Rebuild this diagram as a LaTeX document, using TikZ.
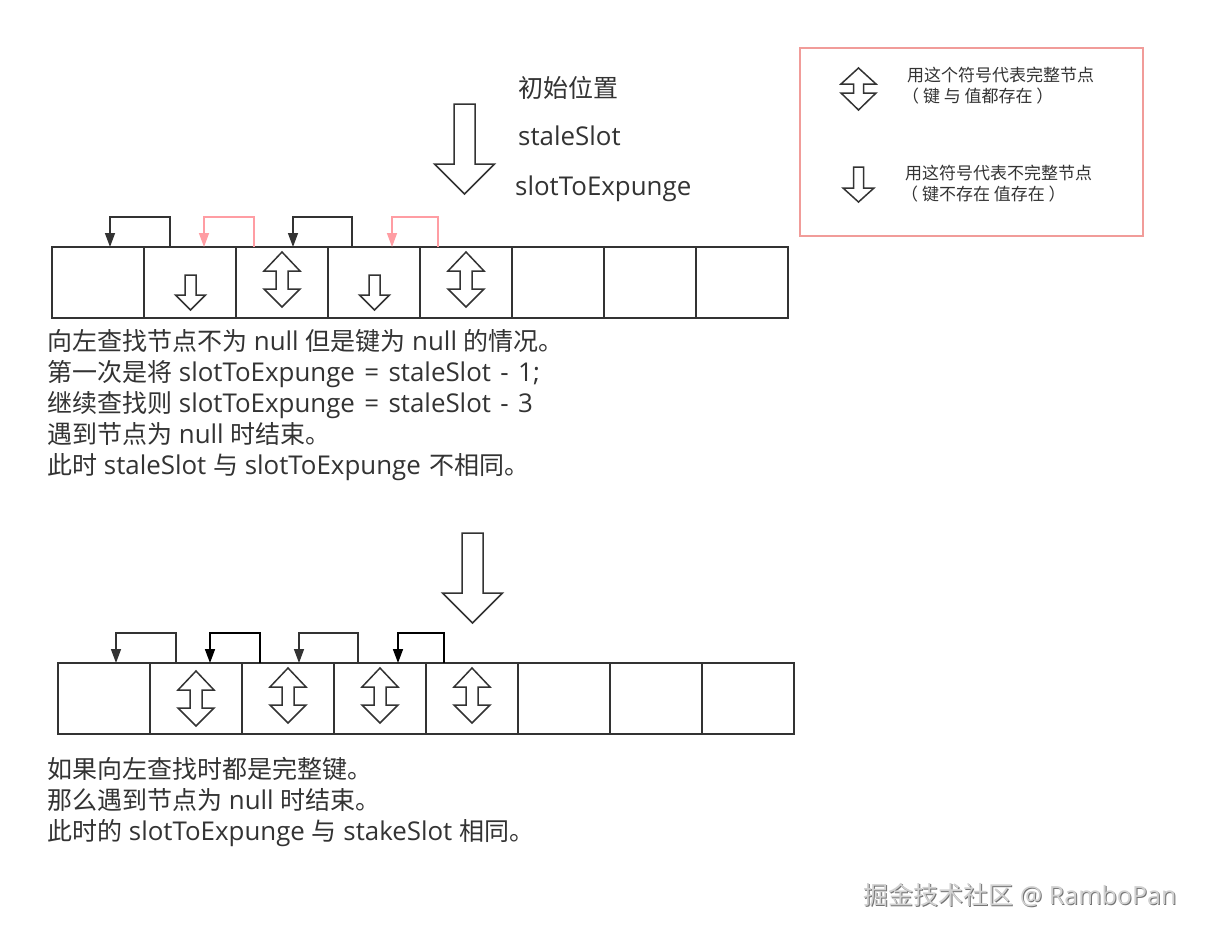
\documentclass[tikz,border=0pt]{standalone}
\usepackage{fontspec}
\setmainfont[Scale=1.035]{Open Sans}
\newfontfamily\cj{Noto Sans CJK SC}
\usetikzlibrary{arrows.meta}
\definecolor{ink}{HTML}{333333}
\definecolor{rosa}{HTML}{FF9DA3}
\definecolor{rosb}{HTML}{F19C99}
\newcommand{\wsp}{\hspace{2.7pt}}
\newcommand{\dnarrow}[6]{% cx, top, heady, tip, shaft half, wing half
  \draw[shape arrow] ({#1-#5},#2) -- ({#1+#5},#2) -- ({#1+#5},#3) -- ({#1+#6},#3) -- (#1,#4) -- ({#1-#6},#3) -- ({#1-#5},#3) -- cycle;}
\newcommand{\dbarrow}[7]{% cx, top, upper wing y, lower wing y, tip, shaft half, wing half
  \draw[shape arrow] (#1,#2) -- ({#1+#7},#3) -- ({#1+#6},#3) -- ({#1+#6},#4) -- ({#1+#7},#4) -- (#1,#5) -- ({#1-#7},#4) -- ({#1-#6},#4) -- ({#1-#6},#3) -- ({#1-#7},#3) -- cycle;}
\tikzset{
  x=1pt,y=-1pt,
  cellbox/.style={draw=ink,line width=1.5pt,minimum width=92pt,minimum height=71pt,inner sep=0pt,outer sep=0pt,anchor=north west},
  shape arrow/.style={draw=ink,line width=1.5pt,fill=white,line join=miter},
  conn/.style={line width=1.4pt,draw=ink,-{Triangle[length=14pt,width=10pt,fill=ink]}},
  connk/.style={line width=1.6pt,draw=black,-{Triangle[length=14pt,width=10pt,fill=black]}},
  connp/.style={line width=1.4pt,draw=rosa,-{Triangle[length=14pt,width=10pt,fill=rosa]}},
  bigtext/.style={inner sep=0pt,anchor=north west,align=left,text=ink,font=\fontsize{25}{31}\selectfont},
  legendtext/.style={inner sep=0pt,anchor=north west,align=left,text=ink,font=\fontsize{17}{21}\cj\selectfont},
  toptext/.style={inner sep=0pt,anchor=west,text=ink,font=\fontsize{25}{31}\selectfont},
  mark text/.style={inner sep=0pt,anchor=west,font=\fontsize{25}{30}\selectfont},
}
\begin{document}
\begin{tikzpicture}
\useasboundingbox[fill=white] (0,0) rectangle (1205,935);
% top labels
\node[toptext] (t1) at (518,88) {\cj 初始位置};
\node[toptext] (t2) at (518,136) {staleSlot};
\node[toptext] (t3) at (515,189) {slotToExpunge};
\dnarrow{464.5}{104}{164}{194}{10.5}{30}
% first row
\foreach \i in {1,...,8} \node[cellbox] (a\i) at ({52+92*(\i-1)},247) {};
\draw[conn] ([xshift=26pt]a2.north west) -- ++(0,-30) -| ([xshift=58pt]a1.north west);
\draw[connp] ([xshift=18pt]a3.north west) -- ++(0,-30) -| ([xshift=60pt]a2.north west);
\draw[conn] ([xshift=24pt]a4.north west) -- ++(0,-30) -| ([xshift=57pt]a3.north west);
\draw[connp] ([xshift=18pt]a5.north west) -- ++(0,-30) -| ([xshift=64pt]a4.north west);
\dnarrow{190.5}{275}{295}{310}{5.5}{15}
\dnarrow{374.5}{275}{295}{310}{5.5}{15}
\dbarrow{282}{252}{271}{289}{307}{6}{18}
\dbarrow{466}{252}{271}{289}{307}{6}{18}
% first paragraph
\node[bigtext] (p1) at (47,329) {{\cj 向左查找节点不为} null {\cj 但是键为} null {\cj 的情况。}\\
{\cj 第一次是将} slotToExpunge \wsp=\wsp{} staleSlot \wsp-\wsp{} 1;\\
{\cj 继续查找则} slotToExpunge \wsp=\wsp{} staleSlot \wsp-\wsp{} 3\\
{\cj 遇到节点为} null {\cj 时结束。}\\
{\cj 此时} staleSlot {\cj 与} slotToExpunge \hspace{2pt}{\cj 不相同。}};
\dnarrow{472.5}{533}{593}{623}{10.5}{30}
% second row
\foreach \i in {1,...,8} \node[cellbox] (b\i) at ({58+92*(\i-1)},663) {};
\draw[conn] ([xshift=26pt]b2.north west) -- ++(0,-30) -| ([xshift=58pt]b1.north west);
\draw[connk] ([xshift=18pt]b3.north west) -- ++(0,-30) -| ([xshift=60pt]b2.north west);
\draw[conn] ([xshift=24pt]b4.north west) -- ++(0,-30) -| ([xshift=57pt]b3.north west);
\draw[connk] ([xshift=18pt]b5.north west) -- ++(0,-30) -| ([xshift=64pt]b4.north west);
\dbarrow{196}{671}{690}{708}{726}{6}{18}
\dbarrow{288}{668}{687}{705}{723}{6}{18}
\dbarrow{380}{668}{687}{705}{723}{6}{18}
\dbarrow{472}{668}{687}{705}{723}{6}{18}
% second paragraph
\node[bigtext] (p2) at (47,757) {{\cj 如果向左查找时都是完整键。}\\
{\cj 那么遇到节点为} null {\cj 时结束。}\\
{\cj 此时的} slotToExpunge {\cj 与} stakeSlot {\cj 相同。}};
% legend
\node[draw=rosb,line width=1.5pt,minimum width=343pt,minimum height=188pt,inner sep=0pt,outer sep=0pt,anchor=north west] (legend) at (800,48) {};
\dbarrow{858.5}{68}{84}{93}{110}{5}{17.5}
\dnarrow{858.5}{167}{188}{202}{5}{15.5}
\node[legendtext] (l1) at (907,67) {用这个符号代表完整节点\\\hspace*{-5pt}（ 键 与 值都存在 ）};
\node[legendtext] (l2) at (905,165) {用这符号代表不完整节点\\\hspace*{-4pt}（ 键不存在 值存在 ）};
% watermark
\node[mark text,text=black!55] (w0) at (864,896) {{\cj 掘金技术社区} {\fontsize{24.2}{30}\selectfont @ RamboPan}};
\node[mark text,text=black!18] (w1) at (863,895) {{\cj 掘金技术社区} {\fontsize{24.2}{30}\selectfont @ RamboPan}};
\end{tikzpicture}
\end{document}
